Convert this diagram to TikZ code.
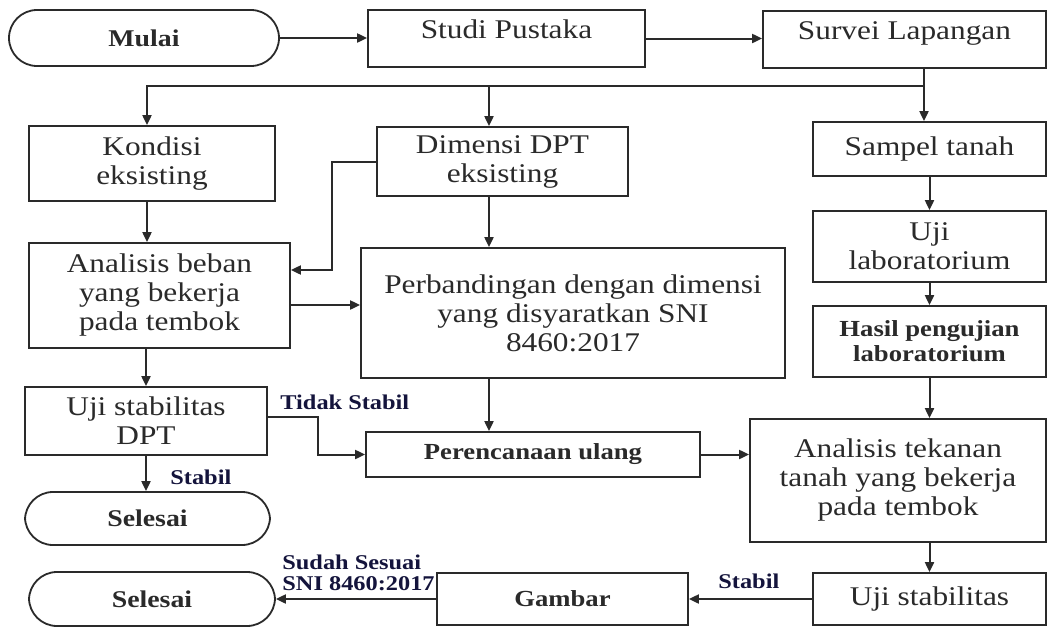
\documentclass[tikz,border=0pt]{standalone}
\usepackage{fontspec}
\setmainfont{Liberation Serif}[FakeStretch=1.16]
\usetikzlibrary{arrows.meta}
\definecolor{Ink}{HTML}{2A2A2A}
\definecolor{Note}{HTML}{14143C}

\begin{document}
\begin{tikzpicture}[x=0.5pt,y=-0.5pt,every node/.style={text=Ink,align=center},
box/.style={draw=Ink,line width=0.9pt,inner sep=2pt,font=\fontsize{13.5}{14.5}\selectfont},
boldbox/.style={box,font=\bfseries\fontsize{11.5}{12.5}\selectfont},
term/.style={boldbox,font=\bfseries\fontsize{12}{13}\selectfont,rounded corners=14pt},
lbl/.style={text=Note,font=\bfseries\fontsize{10.5}{10.5}\selectfont,inner sep=0pt,align=left},
arr/.style={draw=Ink,line width=1pt,-{Triangle[length=5pt,width=4.5pt]}}]
\useasboundingbox[fill=white] (0,0) rectangle (1056,627);

% first row
\node[term,minimum width=135pt,minimum height=28pt] (mulai) at (144,38) {Mulai};
\node[box,minimum width=138.5pt,minimum height=28.5pt,text depth=9pt] (studi) at (506.5,38.5) {Studi Pustaka};
\node[box,minimum width=141.5pt,minimum height=28.5pt,text depth=9pt] (survei) at (904.5,39.5) {Survei Lapangan};

% left and middle columns
\node[box,minimum width=123pt,minimum height=37.5pt] (kondisi) at (152,163.5) {Kondisi\\eksisting};
\node[box,minimum width=125.5pt,minimum height=34.5pt] (dimensi) at (502.5,161.5) {Dimensi DPT\\eksisting};
\node[box,minimum width=130.5pt,minimum height=52.5pt] (beban) at (159.5,295.5) {Analisis beban\\yang bekerja\\pada tembok};
\node[box,minimum width=212pt,minimum height=65pt] (banding) at (573,313) {Perbandingan dengan dimensi\\yang disyaratkan SNI\\8460:2017};
\node[box,minimum width=121pt,minimum height=34pt] (ujidpt) at (146,421) {Uji stabilitas\\DPT};
\node[term,minimum width=122.5pt,minimum height=26.5pt] (selesaiA) at (147.5,518.5) {Selesai};
\node[boldbox,minimum width=167pt,minimum height=22.5pt] (ulang) at (533,454.5) {Perencanaan ulang};

% right column
\node[box,minimum width=116.5pt,minimum height=27pt] (sampel) at (929.5,149) {Sampel tanah};
\node[box,minimum width=116.5pt,minimum height=35.5pt] (ujilab) at (929.5,246.5) {Uji\\laboratorium};
\node[boldbox,minimum width=116.5pt,minimum height=35.5pt] (hasil) at (929.5,341.5) {Hasil pengujian\\laboratorium};
\node[box,minimum width=148pt,minimum height=61.5pt] (tekanan) at (898,480.5) {Analisis tekanan\\tanah yang bekerja\\pada tembok};

% bottom row
\node[box,minimum width=116.5pt,minimum height=26pt] (ujistab) at (929.5,599) {Uji stabilitas};
\node[boldbox,minimum width=125.5pt,minimum height=26pt] (gambar) at (562.5,599) {Gambar};
\node[term,minimum width=123pt,minimum height=27pt] (selesaiB) at (152,599) {Selesai};

% labels
\node[lbl,anchor=base west] (tidak) at (280,409) {Tidak Stabil};
\node[lbl,anchor=base west] (stabA) at (170,484) {Stabil};
\node[lbl,anchor=base west] (stabB) at (718,588) {Stabil};
\node[lbl,anchor=south west] (sesuai) at (282,591) {Sudah Sesuai\\SNI 8460:2017};

\coordinate (split) at (924,86);\coordinate (col) at (489,0);
\draw[arr] (mulai.east) -- (mulai.east -| studi.west);\draw[arr] (studi.east) -- (studi.east -| survei.west);
\draw[arr] (split |- survei.south) -- (split |- sampel.north);\draw[arr] (split) -| ([xshift=-2.5pt]kondisi.north);
\draw[arr] (col |- split) -- (col |- dimensi.north);\draw[arr] (col |- dimensi.south) -- (col |- banding.north);
\draw[arr] ([xshift=-2.5pt]kondisi.south) -- ([xshift=-2.5pt]kondisi.south |- beban.north);
\draw[arr] (dimensi.west) -- ++(-44,0) |- ([yshift=12.75pt]beban.east);
\draw[arr] ([yshift=-4.75pt]beban.east) -- ([yshift=-4.75pt]beban.east -| banding.west);
\draw[arr] (beban.south -| ujidpt.north) -- (ujidpt.north);\draw[arr] (ujidpt.south) -- (ujidpt.south |- selesaiA.north);
\draw[arr] ([yshift=2pt]ujidpt.east) -- ++(50,0) |- (ulang.west);
\draw[arr] (col |- banding.south) -- (col |- ulang.north);\draw[arr] (ulang.east) -- (ulang.east -| tekanan.west);
\draw[arr] (sampel.south) -- (ujilab.north);\draw[arr] (ujilab.south) -- (hasil.north);
\draw[arr] (hasil.south) -- (hasil.south |- tekanan.north);\draw[arr] (tekanan.south -| ujistab.north) -- (ujistab.north);
\draw[arr] (ujistab.west) -- (gambar.east);\draw[arr] (gambar.west) -- (selesaiB.east);
\end{tikzpicture}
\end{document}
